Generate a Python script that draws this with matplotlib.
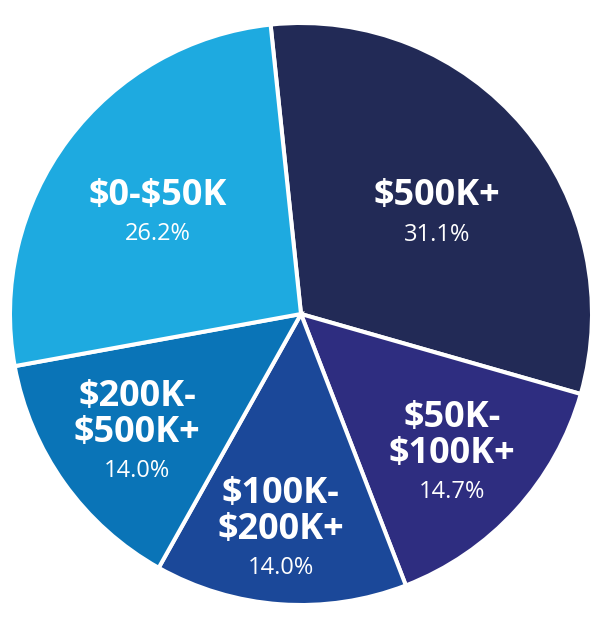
import matplotlib
matplotlib.use("Agg")
import matplotlib.pyplot as plt
import numpy as np

categories = ["$500K+", "$50K-\n$100K+", "$100K-\n$200K+", "$200K-\n$500K+", "$0-$50K"]
values = [31.1, 14.7, 14.0, 14.0, 26.2]
pct_labels = ["31.1%", "14.7%", "14.0%", "14.0%", "26.2%"]
colors = ["#222A56", "#2E2D80", "#1B4899", "#0A74B7", "#1EAAE0"]
label_r = [0.571, 0.76, 0.82, 0.743, 0.593]
label_dang = [-5.0, -4.6, -0.8, 5.2, 3.0]

fig = plt.figure(figsize=(6.0, 6.27), dpi=100)
ax = fig.add_axes([(301 - 291) / 600, (313 - 291) / 627, 582 / 600, 582 / 627])
wedges, _ = ax.pie(values, colors=colors, startangle=96, counterclock=False,
                   radius=1.0, center=(0, 0),
                   wedgeprops=dict(edgecolor="white", linewidth=2.9))
ax.set_xlim(-1, 1)
ax.set_ylim(-1, 1)
ax.set_aspect("equal")
ax.axis("off")

for w, name, pct, r, da in zip(wedges, categories, pct_labels, label_r, label_dang):
    ang = np.deg2rad((w.theta1 + w.theta2) / 2 + da)
    x, y = r * np.cos(ang), r * np.sin(ang)
    ax.annotate(name, (x, y), xytext=(0, 3), textcoords="offset points",
                ha="center", va="bottom", color="white", fontsize=26,
                fontweight="bold", family="Open Sans", linespacing=1.0,
                parse_math=False)
    ax.annotate(pct, (x, y), xytext=(0, -3), textcoords="offset points",
                ha="center", va="top", color="white", fontsize=17,
                family="Open Sans", parse_math=False)

fig.savefig("out.png", dpi=100)
